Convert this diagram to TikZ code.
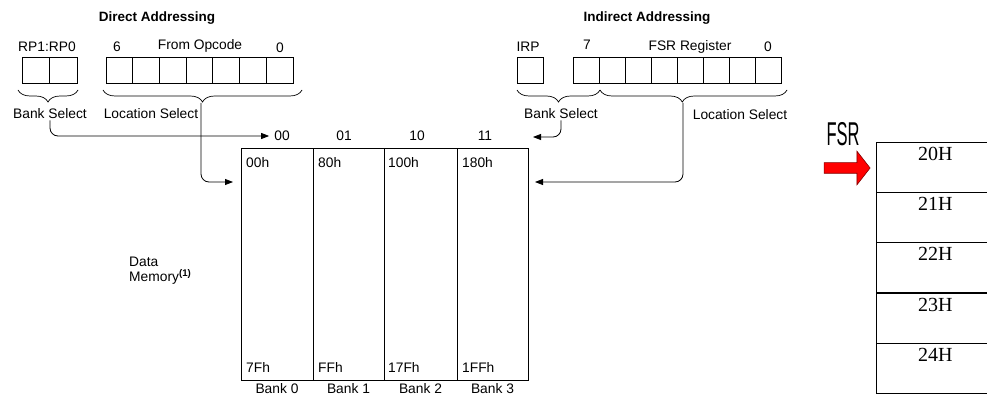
\documentclass[tikz,border=0pt]{standalone}
\usepackage{fontspec}
\setmainfont{Liberation Sans}
\newfontfamily\serifcell{Liberation Serif}
\usetikzlibrary{arrows.meta, positioning, decorations.pathreplacing, shapes.arrows}

\begin{document}
\begin{tikzpicture}[x=1pt, y=-1pt,    % pixel grid, origin top left
    bitbox/.style={
        draw,
        line width=0.8pt,
        minimum height=26pt,
        inner sep=0pt,
        outer sep=0pt,
        anchor=north west
    },
    bankbox/.style={
        draw,
        line width=0.8pt,
        minimum height=232pt,
        inner sep=0pt,
        outer sep=0pt,
        anchor=north west
    },
    fsrcell/.style={
        draw,
        line width=0.8pt,
        minimum width=118pt,
        minimum height=50pt,
        inner sep=0pt,
        anchor=north west
    },
    lbl/.style={font=\fontsize{13.8}{15}\selectfont, inner sep=1pt},
    head/.style={font=\fontsize{13.5}{15}\selectfont\bfseries, inner sep=1pt},
    brc/.style={decorate, line width=0.7pt,
        decoration={brace, mirror, amplitude=12pt}},
    conn/.style={line width=0.8pt, rounded corners=8pt,
        -{Triangle[length=8pt, width=6pt]}}
]
    \clip (0,0) rectangle (987,398);

    % 1. Direct Addressing
    \node [head] (dirhead) at (157,18) {Direct Addressing};
    \node [lbl] (rplbl) at (47,47) {RP1:RP0};
    \node [lbl] (op6lbl) at (117,47) {6};
    \node [lbl] (oplbl) at (200,46) {From Opcode};
    \node [lbl] (op0lbl) at (280,48) {0};
    \foreach \i in {0,1}
        \node [bitbox, minimum width=27.5pt] (rp\i) at ({22+\i*27.5},57) {};
    \foreach \i in {0,...,6}
        \node [bitbox, minimum width=26.7pt] (op\i) at ({106+\i*26.7},57) {};
    \draw [brc] (18,90) -- (78,90);
    \draw [brc] (103,90) -- (302,90);
    \coordinate (dirtip) at (201,103);
    \node [lbl] (banksel) at (50,114) {Bank Select};
    \node [lbl] (locsel) at (151,114) {Location Select};

    % 2. Indirect Addressing
    \node [head] (indhead) at (647,18) {Indirect Addressing};
    \node [lbl] (irplbl) at (528,47) {IRP};
    \node [lbl] (fsr7lbl) at (587,45) {7};
    \node [lbl] (fsrlbl) at (690,47) {FSR Register};
    \node [lbl] (fsr0lbl) at (768,47) {0};
    \node [bitbox, minimum width=26pt] (irp) at (517,57) {};
    \foreach \i in {0,...,7}
        \node [bitbox, minimum width=26pt] (fsr\i) at ({573+\i*26},57) {};
    \draw [brc] (517,90) -- (600,90);
    \draw [brc, decoration={aspect=0.44}] (600,90) -- (787,90);
    \coordinate (indtip) at (683,103);
    \node [lbl] (bankselR) at (561,114) {Bank Select};
    \node [lbl] (locselR) at (740,115) {Location Select};

    % 3. Data memory banks
    \node [bankbox, minimum width=72pt] (bank0) at (241,148) {};
    \node [bankbox, minimum width=71pt] (bank1) at (313,148) {};
    \node [bankbox, minimum width=73pt] (bank2) at (384,148) {};
    \node [bankbox, minimum width=71pt] (bank3) at (457,148) {};
    \node [lbl] (sel00) at (282,136) {00};
    \node [lbl] (sel01) at (344,136) {01};
    \node [lbl] (sel10) at (417,136) {10};
    \node [lbl] (sel11) at (485,136) {11};
    \node [lbl, anchor=west] (b0top) at (245,163) {00h};
    \node [lbl, anchor=west] (b1top) at (317,163) {80h};
    \node [lbl, anchor=west] (b2top) at (387,163) {100h};
    \node [lbl, anchor=west] (b3top) at (461,163) {180h};
    \node [lbl, anchor=west] (b0bot) at (245,367) {7Fh};
    \node [lbl, anchor=west] (b1bot) at (317,367) {FFh};
    \node [lbl, anchor=west] (b2bot) at (387,367) {17Fh};
    \node [lbl, anchor=west] (b3bot) at (461,367) {1FFh};
    \node [lbl, below=2pt of bank0] (bk0) {Bank 0};
    \node [lbl, below=2pt of bank1] (bk1) {Bank 1};
    \node [lbl, below=2pt of bank2] (bk2) {Bank 2};
    \node [lbl, below=2pt of bank3] (bk3) {Bank 3};
    \node [lbl, align=left, anchor=north west] (datamem) at (128,256)
        {Data\\Memory\textsuperscript{\textbf{(1)}}};

    % The Connections
    \coordinate (dirin) at (233,182);
    \coordinate (indin) at (535,182);
    \coordinate (bankin) at (533,137);
    \draw [conn] (banksel.south) |- ([xshift=-4pt]sel00.west);
    \draw [conn] (dirtip) |- (dirin);
    \draw [conn] (bankselR.south) |- (bankin);
    \draw [conn] (indtip) |- (indin);

    % 4. FSR pointer example
    \foreach \i/\a in {0/20H,1/21H,2/22H,3/23H,4/24H}
        \node [fsrcell] (cell\i) at (876,{142+\i*50.2}) {};
    \foreach \i/\a in {0/20H,1/21H,2/22H,3/23H,4/24H}
        \node [font=\serifcell\fontsize{20}{22}\selectfont, anchor=north,
            inner sep=0pt] (addr\i) at ([yshift=-5pt]cell\i.north) {\a};
    \node [inner sep=0pt] (ptrlbl) at (843,134)
        {\scalebox{0.5}[1]{\fontsize{33}{35}\selectfont FSR}};
    \node [single arrow, draw=red!50!black, fill=red, line width=0.6pt,
        minimum height=46pt, inner sep=5pt,
        single arrow head extend=11.5pt, single arrow tip angle=104]
        (ptr) at (845,168) {};
\end{tikzpicture}
\end{document}
